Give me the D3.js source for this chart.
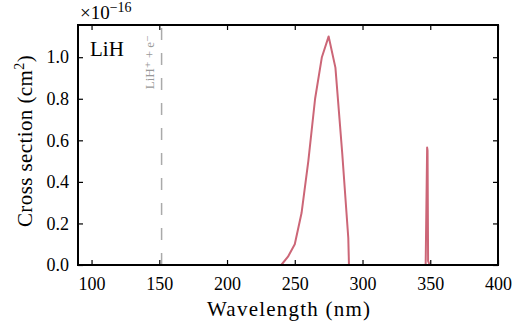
<!DOCTYPE html>
<html>
<head>
<meta charset="utf-8">
<script src="https://cdn.jsdelivr.net/npm/d3@7"></script>
<style>
  body { margin: 0; background: #fff; }
  svg text { font-family: "Liberation Serif", "DejaVu Serif", serif; fill: #000; }
</style>
</head>
<body>
<div id="chart"></div>
<script>
// cross section of LiH, in units of 1e-16 cm^2
var wavelength = [90, 240, 245, 250, 255, 260, 265, 270, 275, 280, 285, 289.5, 290, 346.6, 347.7, 348.0, 348.4, 349.5, 400]
var crossSection = [0, 0, 0.04, 0.1, 0.25, 0.5, 0.8, 1.0, 1.1, 0.95, 0.54, 0.13, 0, 0, 0.565, 0.55, 0.02, 0, 0]
var xTicks = [100, 150, 200, 250, 300, 350, 400]
var yTicks = [0.0, 0.2, 0.4, 0.6, 0.8, 1.0]
var threshold = 151.7   // LiH+ + e- limit
var thresholdLabel = 'LiH⁺ + e⁻'

var width = 525, height = 324
var margin = {left: 78, right: 27, top: 25, bottom: 59}

var svg = d3.select('#chart').append('svg').attr('width', width).attr('height', height)

var x = d3.scaleLinear().domain([90, 400]).range([margin.left, width - margin.right])
var y = d3.scaleLinear().domain([0, 1.155]).range([height - margin.bottom, margin.top])

// threshold line
svg.append('line')
	.attr('x1', x(threshold)).attr('x2', x(threshold))
	.attr('y1', y(0)).attr('y2', y(1.155))
	.attr('stroke', '#aaaaaa').attr('stroke-width', 1.5)
	.attr('stroke-dasharray', '12,13')

svg.append('text')
	.attr('transform', 'translate(' + (x(threshold) - 8) + ',' + 35 + ') rotate(-90)')
	.attr('text-anchor', 'end')
	.style('font-size', '13px').style('fill', '#999')
	.text(thresholdLabel)

var line = d3.line().x(function(d, i) { return x(wavelength[i]) }).y(function(d) { return y(d) })
svg.append('path').datum(crossSection)
	.attr('d', line)
	.attr('fill', 'none').attr('stroke', '#cc6677').attr('stroke-width', 2)
	.attr('stroke-linejoin', 'round')

// axes, ticks inward on all sides
var tickLen = 5
var gx = svg.append('g').attr('transform', 'translate(0,' + y(0) + ')')
	.call(d3.axisBottom(x).tickValues(xTicks).tickSizeInner(-tickLen).tickSizeOuter(0).tickPadding(12))
var gxt = svg.append('g').attr('transform', 'translate(0,' + y(1.155) + ')')
	.call(d3.axisTop(x).tickValues(xTicks).tickSizeInner(-tickLen).tickSizeOuter(0).tickFormat(''))
var gy = svg.append('g').attr('transform', 'translate(' + x(90) + ',0)')
	.call(d3.axisLeft(y).tickValues(yTicks).tickSizeInner(-tickLen).tickSizeOuter(0).tickPadding(9).tickFormat(d3.format('.1f')))
var gyr = svg.append('g').attr('transform', 'translate(' + x(400) + ',0)')
	.call(d3.axisRight(y).tickValues(yTicks).tickSizeInner(-tickLen).tickSizeOuter(0).tickFormat(''))

;[gx, gxt, gy, gyr].forEach(function(g) {
	g.select('.domain').remove()
	g.selectAll('.tick line').attr('stroke', '#000').attr('stroke-width', 1.2)
	g.selectAll('.tick text').style('font-size', '18px').style('font-family', '"Liberation Serif", serif')
})

svg.append('rect')
	.attr('x', x(90)).attr('y', y(1.155))
	.attr('width', x(400) - x(90)).attr('height', y(0) - y(1.155))
	.attr('fill', 'none').attr('stroke', '#000').attr('stroke-width', 2)

// labels
svg.append('text').attr('x', 207).attr('y', 316)
	.attr('textLength', 163).attr('lengthAdjust', 'spacing')
	.style('font-size', '21px').text('Wavelength (nm)')

var yl = svg.append('text').attr('transform', 'translate(32,141) rotate(-90)')
	.attr('text-anchor', 'middle').style('font-size', '21px').style('letter-spacing', '0.4px')
yl.append('tspan').text('Cross section (cm')
yl.append('tspan').attr('dy', -8).style('font-size', '14px').text('2')
yl.append('tspan').attr('dy', 8).text(')')

var mult = svg.append('text').attr('x', 80).attr('y', 19).style('font-size', '19px')
mult.append('tspan').text('×10')
mult.append('tspan').attr('dy', -7).style('font-size', '14px').text('−16')

svg.append('text').attr('x', 90).attr('y', 56).style('font-size', '21px').text('LiH')
</script>
</body>
</html>
